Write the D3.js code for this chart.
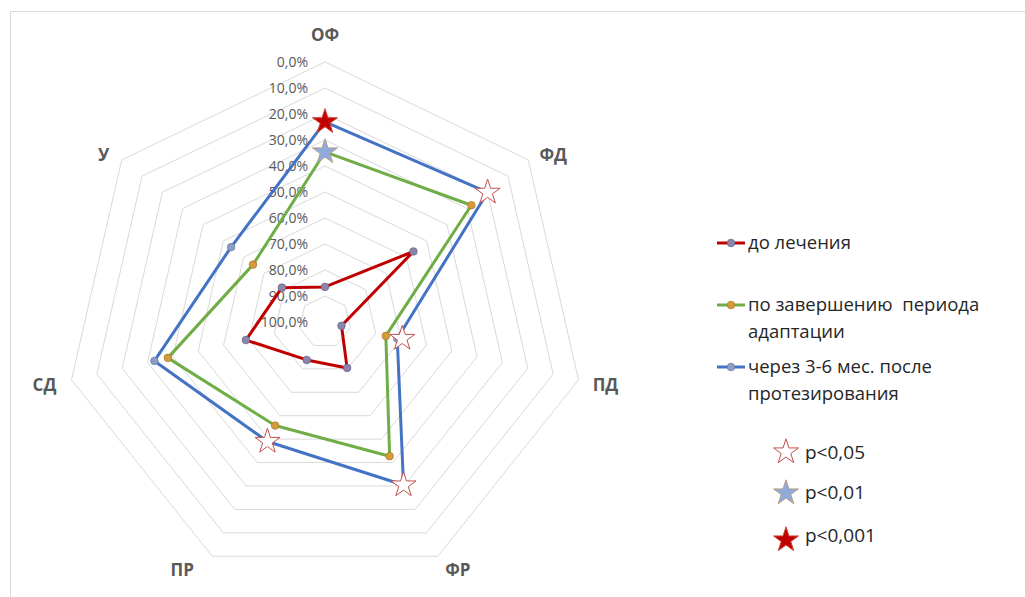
<!DOCTYPE html>
<html lang="ru">
<head>
<meta charset="UTF-8">
<title>Radar</title>
<script src="https://d3js.org/d3.v7.min.js"></script>
<style>
  body { margin: 0; background: #fff; }
  svg { display: block; font-family: "Open Sans", "Noto Sans", sans-serif; }
  text { white-space: pre; }
</style>
</head>
<body>
<div id="chart"></div>
<script>
// data (axis is reversed: 0% outside, 100% in the middle)
const categories = ["ОФ", "ФД", "ПД", "ФР", "ПР", "СД", "У"];
const seriesNames = ["до лечения", "по завершению  периода адаптации", "через 3-6 мес. после протезирования"];
const beforeTreatment = [86.5, 56.5, 93.5, 80.4, 83.8, 68.8, 78.8];
const afterAdaptation = [34.6, 28.0, 76.0, 42.7, 55.8, 38.0, 64.6];
const after3to6 = [23.0, 20.0, 71.5, 30.4, 49.0, 32.7, 53.8];
const ticks = [0, 10, 20, 30, 40, 50, 60, 70, 80, 90, 100];
const pLevels = ["p<0,05", "p<0,01", "p<0,001"];
// significance marks: category, series index, p level index
const sigCats = ["ОФ", "ОФ", "ФД", "ПД", "ФР", "ПР"];
const sigSeries = [2, 1, 2, 2, 2, 2];
const sigLevel = [2, 1, 0, 0, 0, 0];

const W = 1025, H = 597;
const cx = 325, cy = 322, R = 260;

const svg = d3.select("#chart").append("svg")
  .attr("width", W).attr("height", H);

// light frame like the excel chart area
svg.append("rect")
  .attr("x", 10.5).attr("y", 11.5)
  .attr("width", W + 20).attr("height", H + 20)
  .attr("fill", "none").attr("stroke", "#d9d9d9");

const r = d3.scaleLinear().domain([0, 100]).range([R, 0]);
const angle = d3.scaleLinear().domain([0, categories.length]).range([0, 2 * Math.PI]);

function pt(i, v) {
  const a = angle(i);
  return [cx + r(v) * Math.sin(a), cy - r(v) * Math.cos(a)];
}

const g = svg.append("g");

// grid rings
g.selectAll(".ring")
  .data(ticks.filter(t => t < 100))
  .join("polygon")
  .attr("points", t => categories.map((c, i) => pt(i, t).join(",")).join(" "))
  .attr("fill", "none")
  .attr("stroke", "#d9d9d9")
  .attr("stroke-width", 1);

// tick labels
g.selectAll(".tick")
  .data(ticks)
  .join("text")
  .attr("x", cx - 17)
  .attr("y", t => cy - r(t))
  .attr("dy", "0.35em")
  .attr("text-anchor", "end")
  .attr("fill", "#595959")
  .style("font-size", "14px")
  .text(t => t.toFixed(1).replace(".", ",") + "%");

// category labels
const labelOffset = [[0, -27], [25, -5], [27, 5], [20, 14], [-30, 14], [-27, 5], [-18, -5]];
g.selectAll(".cat")
  .data(categories)
  .join("text")
  .attr("x", (c, i) => pt(i, 0)[0] + labelOffset[i][0])
  .attr("y", (c, i) => pt(i, 0)[1] + labelOffset[i][1])
  .attr("dy", "0.35em")
  .attr("text-anchor", "middle")
  .attr("fill", "#595959")
  .style("font-size", "17px")
  .style("font-weight", "bold")
  .text(c => c);

// series
const allSeries = [beforeTreatment, afterAdaptation, after3to6];
const lineColors = ["#c00000", "#70ad47", "#4472c4"];
const markFill = ["#8a86aa", "#d39b3c", "#8c9ec6"];
const markStroke = ["#6b6790", "#b07e28", "#6e80a8"];

const line = d3.line().curve(d3.curveLinearClosed);

allSeries.forEach((vals, s) => {
  const pts = vals.map((v, i) => pt(i, v));
  g.append("path")
    .attr("d", line(pts))
    .attr("fill", "none")
    .attr("stroke", lineColors[s])
    .attr("stroke-width", 3)
    .attr("stroke-linejoin", "round");
  g.selectAll(null)
    .data(pts)
    .join("circle")
    .attr("cx", d => d[0]).attr("cy", d => d[1])
    .attr("r", 3.8)
    .attr("fill", markFill[s])
    .attr("stroke", markStroke[s])
    .attr("stroke-width", 0.8);
});

// stars
const starFill = ["#ffffff", "#8faadc", "#c00000"];
const starStroke = ["#c0504d", "#b59f86", "#d04a3a"];
const star = d3.symbol().type(d3.symbolStar).size(195);

sigCats.forEach((c, k) => {
  const i = categories.indexOf(c);
  const p = pt(i, allSeries[sigSeries[k]][i]);
  const lv = sigLevel[k];
  g.append("path")
    .attr("d", star)
    .attr("transform", `translate(${p[0] + (c === "ПД" ? 5 : 0)},${p[1]})`)
    .attr("fill", starFill[lv])
    .attr("stroke", starStroke[lv])
    .attr("stroke-width", 1);
});

// legend for series
const leg = svg.append("g");
const legY = [[243], [305, 332], [367, 394]];
const legLines = [["до лечения"], ["по завершению  периода", "адаптации"], ["через 3-6 мес. после", "протезирования"]];
legLines.forEach((lines, s) => {
  const y0 = legY[s][0];
  leg.append("line")
    .attr("x1", 717).attr("x2", 745)
    .attr("y1", y0).attr("y2", y0)
    .attr("stroke", lineColors[s]).attr("stroke-width", 3);
  leg.append("circle")
    .attr("cx", 731).attr("cy", y0).attr("r", 3.8)
    .attr("fill", markFill[s]).attr("stroke", markStroke[s]).attr("stroke-width", 0.8);
  lines.forEach((t, j) => {
    leg.append("text")
      .attr("x", 748).attr("y", legY[s][j])
      .attr("dy", "0.35em")
      .attr("fill", "#262626")
      .style("font-size", "18.5px")
      .text(t);
  });
});

// legend for p levels
const pY = [452, 493, 540];
const pTextY = [452, 492, 535];
pLevels.forEach((t, k) => {
  leg.append("path")
    .attr("d", star)
    .attr("transform", `translate(786,${pY[k]})`)
    .attr("fill", starFill[k])
    .attr("stroke", starStroke[k])
    .attr("stroke-width", 1);
  leg.append("text")
    .attr("x", 805).attr("y", pTextY[k])
    .attr("dy", "0.35em")
    .attr("fill", "#262626")
    .style("font-size", "19px")
    .text(t);
});
</script>
</body>
</html>
